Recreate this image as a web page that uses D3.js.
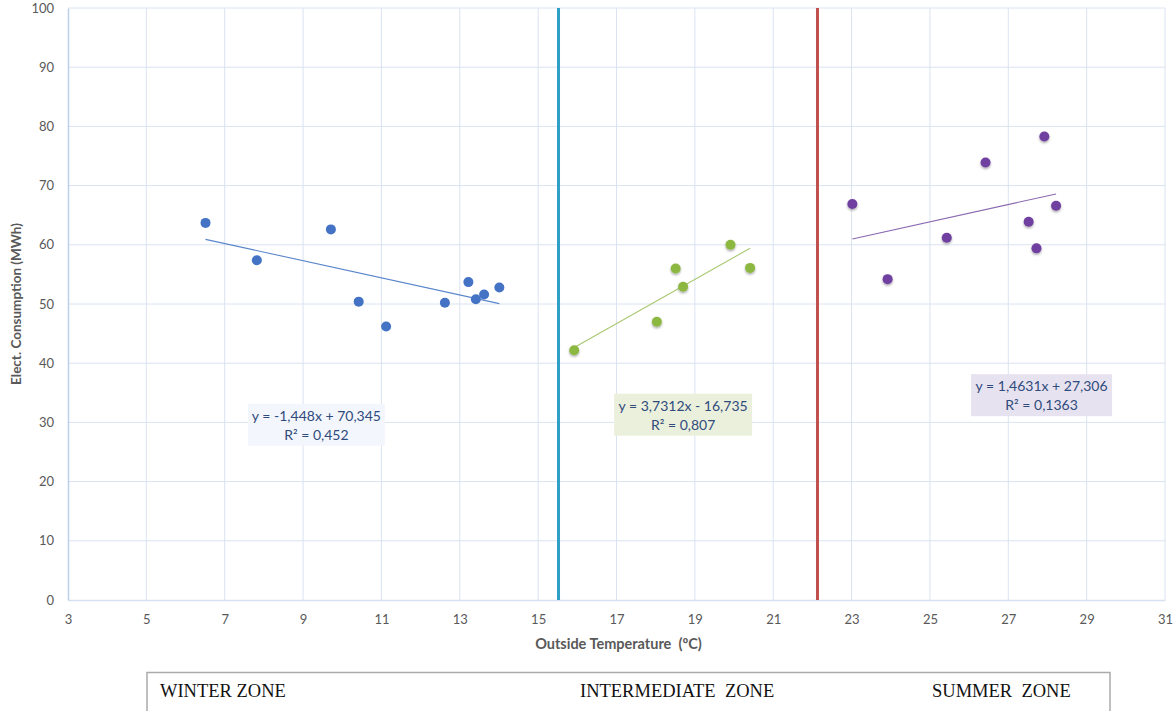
<!DOCTYPE html>
<html>
<head>
<meta charset="utf-8">
<script src="https://cdn.jsdelivr.net/npm/d3@7"></script>
<style>
  html, body { margin: 0; padding: 0; background: #ffffff; }
  svg { display: block; }
  text { white-space: pre; }
</style>
</head>
<body>
<svg id="chart" width="1175" height="711"></svg>
<script>
// ---------------- DATA ----------------
const xTicks = [3, 5, 7, 9, 11, 13, 15, 17, 19, 21, 23, 25, 27, 29, 31];
const yTicks = [0, 10, 20, 30, 40, 50, 60, 70, 80, 90, 100];

const winterTemp = [6.51, 7.82, 9.71, 10.42, 11.12, 12.62, 13.22, 13.41, 13.62, 14.01];
const winterCons = [63.7, 57.4, 62.6, 50.4, 46.2, 50.2, 53.7, 50.8, 51.6, 52.8];

const interTemp = [15.92, 18.03, 18.51, 18.70, 19.91, 20.41];
const interCons = [42.2, 47.0, 56.0, 52.9, 60.0, 56.1];

const summerTemp = [23.02, 23.92, 25.43, 26.42, 27.52, 27.72, 27.92, 28.22];
const summerCons = [66.9, 54.2, 61.2, 73.9, 63.9, 59.4, 78.3, 66.6];

const trendSlope = [-1.448, 3.7312, 1.4631];
const trendIntercept = [70.345, -16.735, 27.306];
const trendEquation = ["y = -1,448x + 70,345", "y = 3,7312x - 16,735", "y = 1,4631x + 27,306"];
const trendR2 = ["R² = 0,452", "R² = 0,807", "R² = 0,1363"];

const zoneBoundaries = [15.52, 22.13];
const zoneNames = ["WINTER ZONE", "INTERMEDIATE  ZONE", "SUMMER  ZONE"];

const xTitle = "Outside Temperature  (ºC)";
const yTitle = "Elect. Consumption (MWh)";

// ---------------- STYLE ----------------
const seriesColor = ["#4472c4", "#8cb843", "#7040a0"];
const trendColor = ["#5a86cc", "#a8c870", "#8a68b0"];
const labelBg = ["#f3f6fc", "#ebf0dd", "#e7e2ef"];
const boundaryColor = ["#2f9fc6", "#c0504d"];
// label anchors (data coordinates: centre x, centre y)
const labelAnchor = [[9.34, 29.6], [18.70, 31.3], [27.85, 34.6]];
const labelSize = [[137, 42], [138, 42], [141, 42]];
const zoneTextX = [160, 580, 932];

const svg = d3.select("#chart");
const W = 1175, H = 711;
const margin = { left: 68, right: W - 1165, top: 8, bottom: H - 600 };

const x = d3.scaleLinear().domain([3, 31]).range([margin.left, W - margin.right]);
const y = d3.scaleLinear().domain([0, 100]).range([H - margin.bottom, margin.top]);

const defs = svg.append("defs");
const f = defs.append("filter").attr("id", "shadow").attr("x", "-50%").attr("y", "-50%").attr("width", "200%").attr("height", "200%");
f.append("feDropShadow").attr("dx", 0).attr("dy", 1.5).attr("stdDeviation", 1.2).attr("flood-color", "#000").attr("flood-opacity", 0.35);

const fontSans = "Lato, 'Open Sans', 'Noto Sans', sans-serif";

// grid
const grid = svg.append("g");
grid.selectAll("line.gx").data(xTicks.slice(1)).enter().append("line")
  .attr("x1", d => x(d)).attr("x2", d => x(d))
  .attr("y1", y(0)).attr("y2", y(100))
  .attr("stroke", "#dae3f1").attr("stroke-width", 1);
grid.selectAll("line.gy").data(yTicks.slice(1)).enter().append("line")
  .attr("x1", x(3)).attr("x2", x(31))
  .attr("y1", d => y(d)).attr("y2", d => y(d))
  .attr("stroke", "#dae3f1").attr("stroke-width", 1);

// axes
const xAxis = svg.append("g").attr("transform", `translate(0,${y(0)})`)
  .call(d3.axisBottom(x).tickValues(xTicks).tickSize(0).tickPadding(15).tickFormat(d3.format("d")));
xAxis.select(".domain").attr("stroke", "#d5e0f0").attr("stroke-width", 1.5);
xAxis.selectAll("text").attr("fill", "#595959").attr("font-size", 13).attr("font-family", fontSans);

const yAxis = svg.append("g").attr("transform", `translate(${x(3)},0)`)
  .call(d3.axisLeft(y).tickValues(yTicks).tickSize(0).tickPadding(14).tickFormat(d3.format("d")));
yAxis.select(".domain").attr("stroke", "#bccfeb").attr("stroke-width", 1.5);
yAxis.selectAll("text").attr("fill", "#595959").attr("font-size", 13).attr("font-family", fontSans);

// axis titles
svg.append("text").attr("x", x(17.05)).attr("y", 649)
  .attr("text-anchor", "middle").attr("font-family", fontSans).attr("font-weight", 700)
  .attr("font-size", 14.5).attr("fill", "#595959").text(xTitle);
svg.append("text").attr("transform", `translate(21,${(y(0) + y(100)) / 2}) rotate(-90)`)
  .attr("text-anchor", "middle").attr("font-family", fontSans).attr("font-weight", 700)
  .attr("font-size", 13.5).attr("fill", "#595959").text(yTitle);

// zone boundaries
svg.selectAll("line.zb").data(zoneBoundaries).enter().append("line")
  .attr("x1", d => x(d)).attr("x2", d => x(d))
  .attr("y1", y(0)).attr("y2", y(100))
  .attr("stroke", (d, i) => boundaryColor[i]).attr("stroke-width", 3);

// series
const series = [
  { t: winterTemp, c: winterCons, shadow: false },
  { t: interTemp, c: interCons, shadow: true },
  { t: summerTemp, c: summerCons, shadow: true }
];

series.forEach((s, i) => {
  const pts = s.t.map((t, k) => ({ t, c: s.c[k] }));
  const x0 = d3.min(s.t), x1 = d3.max(s.t);
  // trendline
  svg.append("line")
    .attr("x1", x(x0)).attr("y1", y(trendSlope[i] * x0 + trendIntercept[i]))
    .attr("x2", x(x1)).attr("y2", y(trendSlope[i] * x1 + trendIntercept[i]))
    .attr("stroke", trendColor[i]).attr("stroke-width", 1.1);
  // points
  svg.append("g").selectAll("circle").data(pts).enter().append("circle")
    .attr("cx", d => x(d.t)).attr("cy", d => y(d.c)).attr("r", 5)
    .attr("fill", seriesColor[i])
    .attr("filter", s.shadow ? "url(#shadow)" : null);
  // equation label
  const cx = x(labelAnchor[i][0]), cy = y(labelAnchor[i][1]);
  const [bw, bh] = labelSize[i];
  svg.append("rect").attr("x", cx - bw / 2).attr("y", cy - bh / 2)
    .attr("width", bw).attr("height", bh).attr("fill", labelBg[i]);
  svg.append("text").attr("x", cx).attr("y", cy - 4)
    .attr("text-anchor", "middle").attr("font-family", fontSans).attr("font-size", 14)
    .attr("fill", "#2f4b7c").text(trendEquation[i]);
  svg.append("text").attr("x", cx).attr("y", cy + 15)
    .attr("text-anchor", "middle").attr("font-family", fontSans).attr("font-size", 14)
    .attr("fill", "#2f4b7c").text(trendR2[i]);
});

// zone table
svg.append("rect").attr("x", 147).attr("y", 672.5).attr("width", 963).attr("height", 60)
  .attr("fill", "none").attr("stroke", "#ababab").attr("stroke-width", 1.5);
svg.selectAll("text.zone").data(zoneNames).enter().append("text")
  .attr("x", (d, i) => zoneTextX[i]).attr("y", 697)
  .attr("font-family", "'Liberation Serif', 'Times New Roman', serif")
  .attr("font-size", 18.5).attr("fill", "#111").text(d => d);
</script>
</body>
</html>
